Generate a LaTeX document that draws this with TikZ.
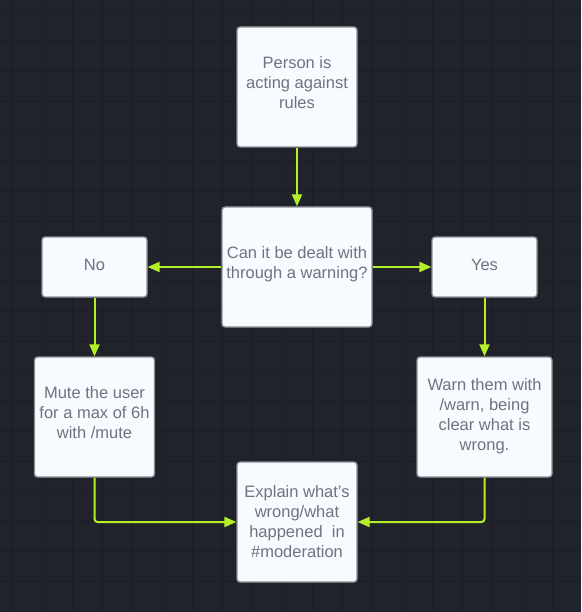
\documentclass[tikz,border=0pt]{standalone}
\usepackage{fontspec}
\setmainfont{Liberation Sans}
\usetikzlibrary{arrows.meta}
\definecolor{bg}{RGB}{32,35,42}
\definecolor{gridc}{RGB}{26,29,35}
\definecolor{boxfill}{RGB}{247,250,255}
\definecolor{boxline}{RGB}{140,143,150}
\definecolor{txt}{RGB}{110,115,128}
\definecolor{lime}{RGB}{180,240,40}
\tikzset{
  box/.style={draw=boxline, line width=1.3pt, fill=boxfill, rounded corners=3pt,
    inner sep=0pt},
  lbl/.style={inner sep=0pt, align=center, text=txt,
    font=\fontsize{16.5pt}{20pt}\selectfont},
  flow/.style={draw=lime, line width=2pt, rounded corners=3pt,
    -{Triangle[length=12pt,width=10pt]}}
}
\begin{document}
\begin{tikzpicture}[x=1pt,y=-1pt]
\fill[bg] (0,0) rectangle (581,612);
\useasboundingbox (0,0) rectangle (581,612);
\foreach \gx in {12,42,...,582} \draw[gridc, line width=0.9pt] (\gx,0) -- (\gx,612);
\foreach \gy in {11,41,...,612} \draw[gridc, line width=0.9pt] (0,\gy) -- (581,\gy);

\node[box, minimum width=120pt, minimum height=120pt] (person) at (297,87) {};
\node[box, minimum width=150pt, minimum height=120pt] (decide) at (297,267) {};
\node[box, minimum width=105pt, minimum height=60pt] (no) at (94.5,267) {};
\node[box, minimum width=105pt, minimum height=60pt] (yes) at (484.5,267) {};
\node[box, minimum width=120pt, minimum height=120pt] (mute) at (94.5,417) {};
\node[box, minimum width=135pt, minimum height=120pt] (warn) at (484.5,417) {};
\node[box, minimum width=120pt, minimum height=120pt] (explain) at (297,522) {};

\node[lbl] (personT) at ([yshift=4pt]person.center) {Person is\\acting against\\rules};
\node[lbl] (decideT) at ([yshift=2.5pt]decide.center) {Can it be dealt with\\through a warning?};
\node[lbl] (noT) at ([yshift=2pt]no.center) {No};
\node[lbl] (yesT) at ([yshift=2pt]yes.center) {Yes};
\node[lbl] (muteT) at ([yshift=4pt]mute.center) {Mute the user\\for a max of 6h\\with /mute};
\node[lbl] (warnT) at ([yshift=1pt]warn.center) {Warn them with\\/warn, being\\clear what is\\wrong.};
\node[lbl] (explainT) at (explain.center) {Explain what's\\wrong/what\\happened~ in\\\#moderation};

\draw[flow] (person.south) -- (decide.north);
\draw[flow] (decide.west) -- (no.east);
\draw[flow] (decide.east) -- (yes.west);
\draw[flow] (no.south) -- (mute.north);
\draw[flow] (yes.south) -- (warn.north);
\draw[flow] (mute.south) |- (explain.west);
\draw[flow] (warn.south) |- (explain.east);
\end{tikzpicture}
\end{document}
